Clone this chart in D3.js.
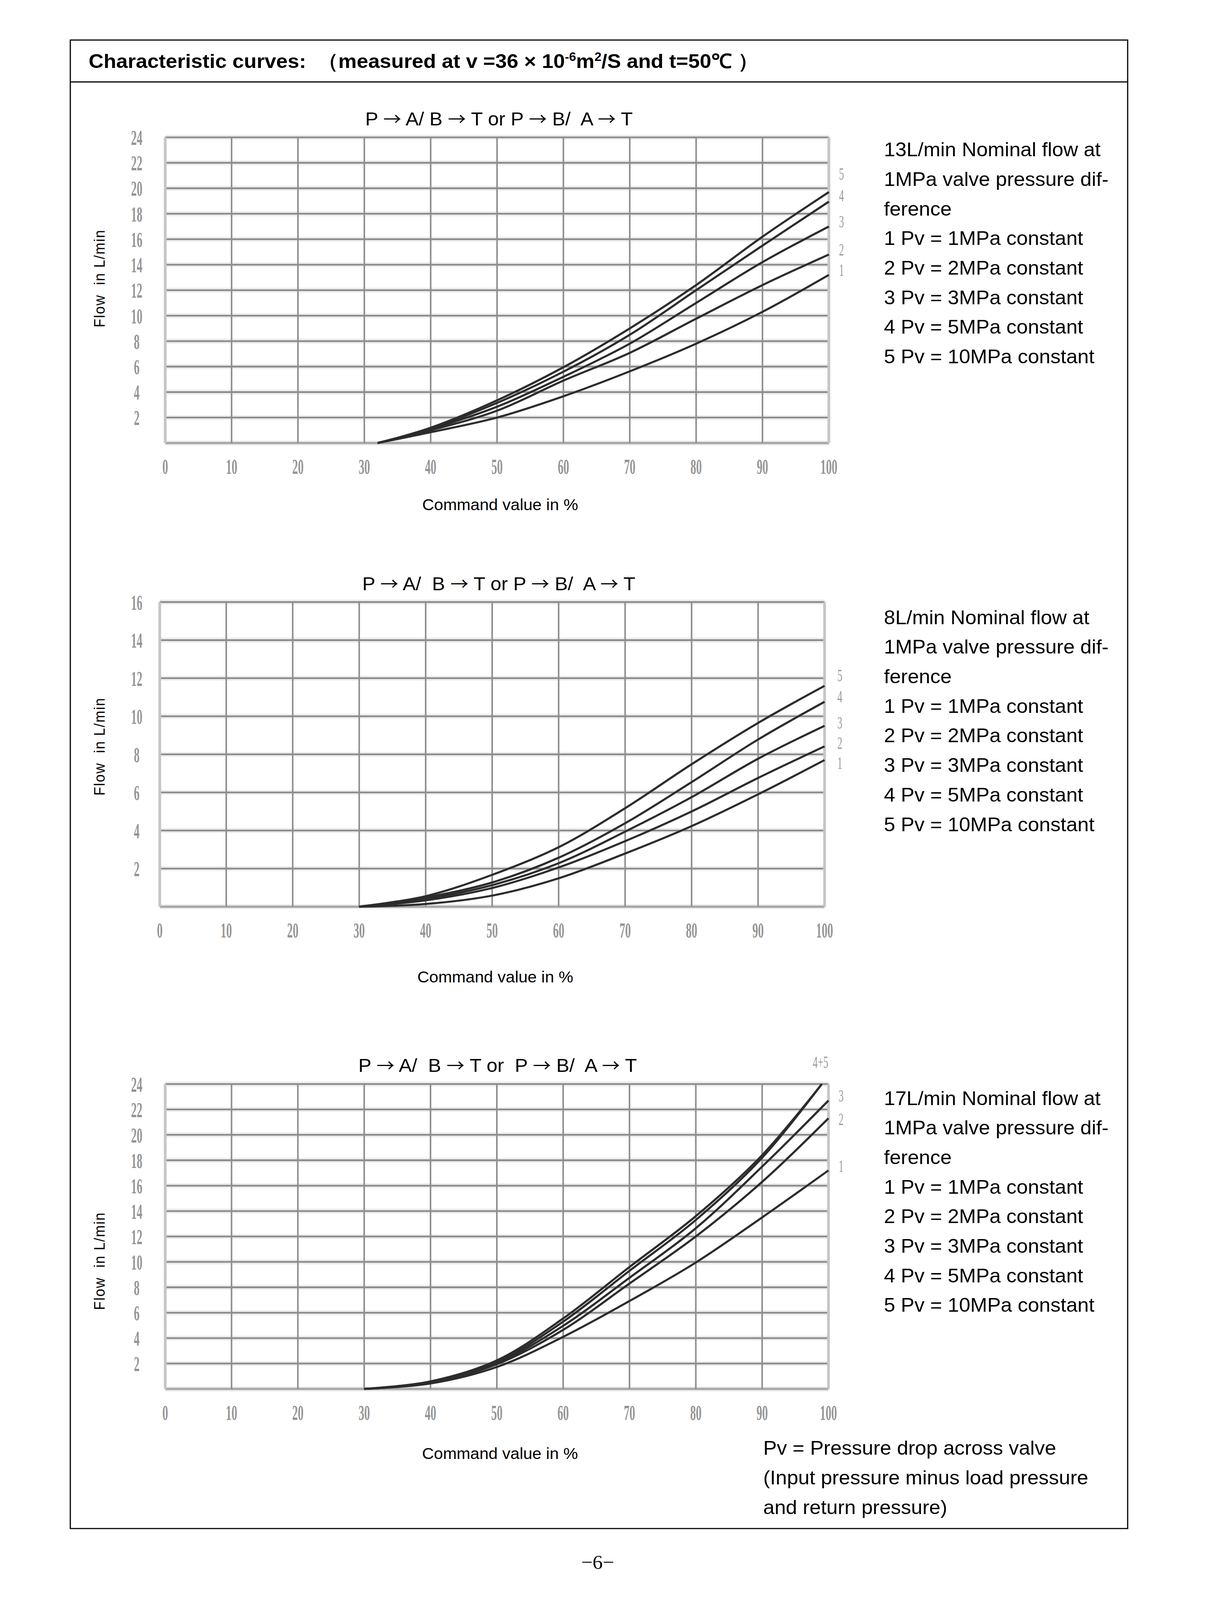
<!DOCTYPE html>
<html>
<head>
<meta charset="utf-8">
<script src="https://cdn.jsdelivr.net/npm/d3@7"></script>
<style>
  html, body { margin: 0; padding: 0; background: #fff; overflow: hidden; }
  svg { display: block; }
  text { white-space: pre; }
</style>
</head>
<body>
<svg id="page" viewBox="0 0 3149 4276" preserveAspectRatio="none" style="width:100vw;height:100vh"></svg>
<script>
// ---- data (command value in %, flow in L/min) ----
var xTicks = [0, 10, 20, 30, 40, 50, 60, 70, 80, 90, 100];
var yTicks24 = [2, 4, 6, 8, 10, 12, 14, 16, 18, 20, 22, 24];
var yTicks16 = [2, 4, 6, 8, 10, 12, 14, 16];
var curveNames = ['1', '2', '3', '4', '5'];

// chart 1 : 13 L/min
var command1 = [32, 40, 50, 60, 70, 80, 90, 100];
var flow1_1 = [0, 0.85, 2.0, 3.67, 5.63, 7.8, 10.3, 13.2];
var flow1_2 = [0, 1.0, 2.54, 4.9, 7.08, 9.76, 12.4, 14.8];
var flow1_3 = [0, 1.1, 2.85, 5.2, 7.8, 11.0, 14.2, 17.0];
var flow1_4 = [0, 1.15, 3.15, 5.6, 8.5, 12.0, 15.5, 18.95];
var flow1_5 = [0, 1.2, 3.35, 5.95, 9.0, 12.4, 16.2, 19.7];
var labelFlow1 = [13.6, 15.2, 17.4, 19.45, 21.15];

// chart 2 : 8 L/min
var command2 = [30, 40, 50, 60, 70, 80, 90, 100];
var flow2_1 = [0, 0.14, 0.58, 1.49, 2.79, 4.23, 5.9, 7.7];
var flow2_2 = [0, 0.33, 0.98, 2.06, 3.44, 5.0, 6.76, 8.42];
var flow2_3 = [0, 0.4, 1.13, 2.28, 3.94, 5.75, 7.77, 9.5];
var flow2_4 = [0, 0.48, 1.27, 2.57, 4.38, 6.54, 8.78, 10.76];
var flow2_5 = [0, 0.55, 1.67, 3.12, 5.17, 7.48, 9.65, 11.6];
var labelFlow2 = [7.55, 8.61, 9.67, 11.05, 12.15];

// chart 3 : 17 L/min (curves 4 and 5 run together up to 24 at ~99 %)
var command3 = [30, 40, 50, 60, 70, 80, 90, 100];
var command3Top = [30, 40, 50, 60, 70, 80, 90, 99];
var flow3_1 = [0, 0.43, 1.73, 4.1, 6.92, 9.95, 13.5, 17.2];
var flow3_2 = [0, 0.5, 1.95, 4.65, 8.3, 12.0, 16.3, 21.3];
var flow3_3 = [0, 0.54, 2.05, 4.97, 8.75, 12.65, 17.5, 22.7];
var flow3_4 = [0, 0.56, 2.12, 5.3, 9.3, 13.3, 18.2, 24.0];
var flow3_5 = [0, 0.6, 2.25, 5.55, 9.6, 13.6, 18.4, 24.0];
var labelNames3 = ['1', '2', '3', '4+5'];
var labelFlow3 = [17.57, 21.25, 23.1, 25.75];

var legendLines = ['1 Pv = 1MPa constant', '2 Pv = 2MPa constant', '3 Pv = 3MPa constant',
  '4 Pv = 5MPa constant', '5 Pv = 10MPa constant'];

var svg = d3.select('#page');
var sans = '"Liberation Sans", Arial, sans-serif';
var serif = '"Liberation Serif", "Times New Roman", serif';
var cjk = '"Noto Sans CJK SC", sans-serif';

// page frame
svg.append('rect').attr('x', 180).attr('y', 107).attr('width', 2707).attr('height', 3978)
  .attr('fill', 'none').attr('stroke', '#000').attr('stroke-width', 3);
svg.append('line').attr('x1', 180).attr('x2', 2887).attr('y1', 219).attr('y2', 219)
  .attr('stroke', '#000').attr('stroke-width', 3);

var head = svg.append('text').attr('x', 227).attr('y', 182)
  .attr('font-family', sans).attr('font-weight', 'bold').attr('font-size', 53);
head.append('tspan').text('Characteristic curves:  （measured at v =36 × 10');
head.append('tspan').attr('dy', -19).attr('font-size', 32).text('-6');
head.append('tspan').attr('dy', 19).text('m');
head.append('tspan').attr('dy', -19).attr('font-size', 32).text('2');
head.append('tspan').attr('dy', 19).text('/S and t=50℃ ）');

function drawChart(opt) {
  var x = d3.scaleLinear().domain([0, 100]).range([opt.left, opt.right]);
  var y = d3.scaleLinear().domain([0, opt.yMax]).range([opt.bottom, opt.top]);
  var g = svg.append('g');
  var yGrid = d3.range(0, opt.yMax + 1, 2);

  // light halo under the horizontal rules
  g.selectAll('.halo').data(yGrid).enter().append('line')
    .attr('x1', x(0)).attr('x2', x(100)).attr('y1', y).attr('y2', y)
    .attr('stroke', '#ececec').attr('stroke-width', 13);
  g.selectAll('.hgrid').data(yGrid).enter().append('line')
    .attr('x1', x(0)).attr('x2', x(100)).attr('y1', y).attr('y2', y)
    .attr('stroke', function (d) { return d === 0 ? '#a8a8a8' : '#8a8a8a'; })
    .attr('stroke-width', function (d) { return d === 0 ? 6 : 4.5; });
  g.selectAll('.vgrid').data(xTicks).enter().append('line')
    .attr('x1', x).attr('x2', x).attr('y1', y(0)).attr('y2', y(opt.yMax))
    .attr('stroke', function (d) { return d === 0 || d === 100 ? '#c6c6c6' : '#8e8e8e'; })
    .attr('stroke-width', function (d) { return d === 0 || d === 100 ? 7 : 4; });

  // tick labels (tall, narrow grey numerals)
  g.selectAll('.xl').data(xTicks).enter().append('text')
    .attr('transform', function (d) { return 'translate(' + x(d) + ',' + (opt.bottom + 62) + ') scale(0.5,1)'; })
    .attr('text-anchor', 'middle').attr('dy', '0.35em')
    .attr('font-family', serif).attr('font-weight', 'bold').attr('font-size', 58).attr('fill', '#959595')
    .text(function (d) { return d; });
  g.selectAll('.yl').data(opt.yTicks).enter().append('text')
    .attr('transform', function (d) { return 'translate(350,' + y(d) + ') scale(0.5,1)'; })
    .attr('text-anchor', 'middle').attr('dy', '0.35em')
    .attr('font-family', serif).attr('font-weight', 'bold').attr('font-size', 58).attr('fill', '#959595')
    .text(function (d) { return d; });

  // curves
  var line = d3.line()
    .x(function (d) { return x(d[0]); })
    .y(function (d) { return y(d[1]); })
    .curve(d3.curveCatmullRom.alpha(0.5));
  opt.series.forEach(function (s) {
    g.append('path')
      .datum(s.xs.map(function (v, i) { return [v, s.ys[i]]; }))
      .attr('d', line).attr('fill', 'none')
      .attr('stroke', '#2c2c2c').attr('stroke-width', 5.5);
  });

  // curve numbers
  opt.labels.forEach(function (l) {
    g.append('text')
      .attr('transform', 'translate(' + x(l.x) + ',' + y(l.v) + ') scale(0.55,1)')
      .attr('text-anchor', 'middle').attr('dy', '0.35em')
      .attr('font-family', serif).attr('font-size', 46).attr('fill', '#9a9a9a')
      .text(l.name);
  });

  // title, arrows set in a CJK face for the long thin shape
  var title = svg.append('text').attr('x', (opt.left + opt.right) / 2 + opt.titleDx).attr('y', opt.top - 32)
    .attr('text-anchor', 'middle').attr('font-family', sans).attr('font-size', 50);
  opt.title.split('→').forEach(function (part, i) {
    if (i > 0) title.append('tspan').attr('font-family', cjk).attr('font-size', 46).text('→');
    title.append('tspan').text(part);
  });

  svg.append('text').attr('x', (opt.left + opt.right) / 2 + 8).attr('y', opt.bottom + opt.xTitleDy)
    .attr('text-anchor', 'middle').attr('font-family', sans).attr('font-size', 42)
    .text('Command value in %');
  svg.append('text')
    .attr('transform', 'translate(268,' + opt.yTitleY + ') rotate(-90)')
    .attr('text-anchor', 'middle').attr('font-family', sans).attr('font-size', 38)
    .attr('letter-spacing', 2)
    .text('Flow  in L/min');

  var lines = [opt.nominal + ' Nominal flow at', '1MPa valve pressure dif-', 'ference'].concat(legendLines);
  svg.append('g').selectAll('text').data(lines).enter().append('text')
    .attr('x', 2263).attr('y', function (d, i) { return opt.textY + i * 79; })
    .attr('font-family', sans).attr('font-size', 52)
    .text(function (d) { return d; });
}

function seriesOf(xs, ys) {
  return ys.map(function (v, i) { return { xs: Array.isArray(xs[0]) ? xs[i] : xs, ys: v }; });
}

drawChart({
  left: 423, right: 2122, top: 367, bottom: 1184, yMax: 24, yTicks: yTicks24,
  title: 'P → A/ B → T or P → B/  A → T', titleDx: 5, xTitleDy: 179, yTitleY: 744,
  nominal: '13L/min', textY: 418,
  series: seriesOf(command1, [flow1_1, flow1_2, flow1_3, flow1_4, flow1_5]),
  labels: curveNames.map(function (n, i) { return { name: n, x: 101.9, v: labelFlow1[i] }; })
});

drawChart({
  left: 409, right: 2111, top: 1609, bottom: 2423, yMax: 16, yTicks: yTicks16,
  title: 'P → A/  B → T or P → B/  A → T', titleDx: 17, xTitleDy: 203, yTitleY: 1995,
  nominal: '8L/min', textY: 1668,
  series: seriesOf(command2, [flow2_1, flow2_2, flow2_3, flow2_4, flow2_5]),
  labels: curveNames.map(function (n, i) { return { name: n, x: 102.3, v: labelFlow2[i] }; })
});

drawChart({
  left: 423, right: 2121, top: 2897, bottom: 3712, yMax: 24, yTicks: yTicks24,
  title: 'P → A/  B → T or  P → B/  A → T', titleDx: 2, xTitleDy: 187, yTitleY: 3370,
  nominal: '17L/min', textY: 2953,
  series: seriesOf([command3, command3, command3, command3Top, command3Top],
    [flow3_1, flow3_2, flow3_3, flow3_4, flow3_5]),
  labels: labelNames3.map(function (n, i) { return { name: n, x: i === 3 ? 98.8 : 101.9, v: labelFlow3[i] }; })
});

// footnote and page number
var notes = ['Pv = Pressure drop across valve', '(Input pressure minus load pressure', 'and return pressure)'];
svg.append('g').selectAll('text').data(notes).enter().append('text')
  .attr('x', 1954).attr('y', function (d, i) { return 3888 + i * 79; })
  .attr('font-family', sans).attr('font-size', 52)
  .text(function (d) { return d; });
svg.append('text').attr('x', 1530).attr('y', 4193).attr('text-anchor', 'middle')
  .attr('font-family', serif).attr('font-size', 52).text('−6−');
</script>
</body>
</html>
